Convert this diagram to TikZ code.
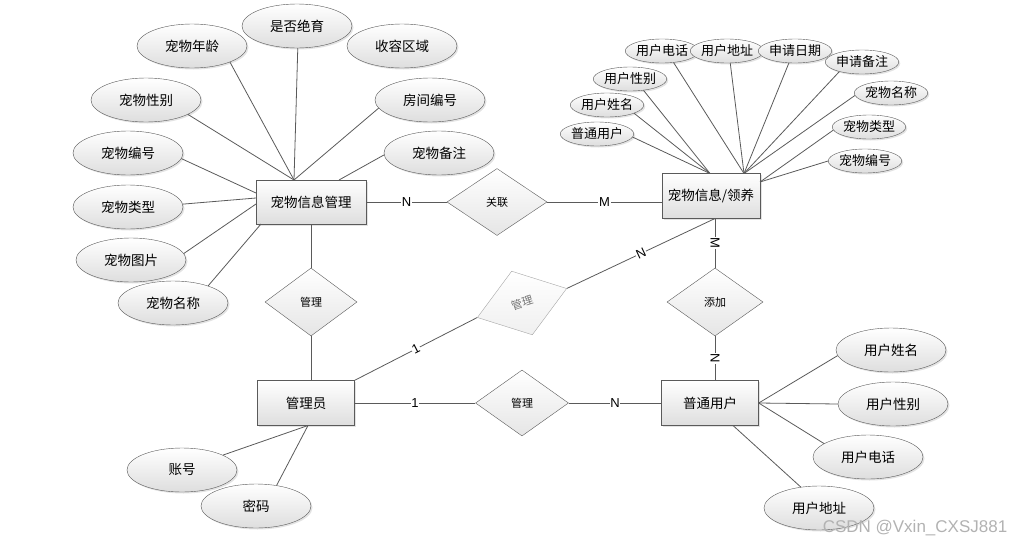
\documentclass[tikz,border=0pt]{standalone}
\usepackage{fontspec}
\setmainfont{Liberation Sans}
\newfontfamily\cjk{Noto Sans CJK SC}
\usetikzlibrary{shapes.geometric,shadows}
\definecolor{ln}{HTML}{5A5A5A}
\begin{document}
\begin{tikzpicture}[x=1pt,y=-1pt,
  shade/.style={top color=white, bottom color=black!13, drop shadow={shadow xshift=1.5pt, shadow yshift=-1.5pt, fill=black!22}},
  attr/.style={ellipse, draw=ln, shade, minimum width=110pt, minimum height=44pt, inner sep=0pt, font=\cjk\fontsize{13.5}{16}\selectfont},
  sattr/.style={attr, minimum width=66pt, minimum height=24pt, font=\cjk\fontsize{13}{15}\selectfont},
  ent/.style={rectangle, draw=ln, shade, minimum width=97pt, minimum height=45pt, inner sep=0pt, font=\cjk\fontsize{13.5}{16}\selectfont},
  rel/.style={diamond, draw=ln, top color=white, bottom color=black!10, inner sep=0pt, font=\cjk\fontsize{11}{13}\selectfont},
  con/.style={draw=ln, line width=0.8pt},
  card/.style={fill=white, inner sep=0.6pt, font=\fontsize{13}{15}\selectfont}
]
\useasboundingbox (0,0) rectangle (1016,546);

% ---------- entities ----------
\node[ent, minimum width=110pt, minimum height=44pt] (pm) at (311,202) {宠物信息管理};
\node[ent, minimum width=98pt] (pl) at (711,196) {宠物信息/领养};
\node[ent] (adm) at (306,403) {管理员};
\node[ent] (usr) at (710,403) {普通用户};

% ---------- relationships ----------
\node[rel, minimum width=92pt, minimum height=68pt] (r1) at (311,302) {管理};
\node[rel, minimum width=100pt, minimum height=67pt] (r2) at (497,202) {关联};
\node[rel, draw=black!35, top color=white, bottom color=black!6, text=black!55, rotate=18, minimum width=94pt, minimum height=67pt] (r3) at (522,303) {管理};
\node[rel, minimum width=96pt, minimum height=68pt] (r4) at (715,302) {添加};
\node[rel, minimum width=93pt, minimum height=66pt] (r5) at (522,403) {管理};

% ---------- attributes of 宠物信息管理 ----------
\node[attr] (a1) at (297,26) {是否绝育};
\node[attr] (a2) at (192,46) {宠物年龄};
\node[attr] (a3) at (402,46) {收容区域};
\node[attr] (a4) at (146,100) {宠物性别};
\node[attr] (a5) at (430,100) {房间编号};
\node[attr] (a6) at (128,153) {宠物编号};
\node[attr] (a7) at (439,153) {宠物备注};
\node[attr] (a8) at (128,207) {宠物类型};
\node[attr] (a9) at (131,260) {宠物图片};
\node[attr] (a10) at (173,303) {宠物名称};

\coordinate (pmt) at (294,180);
\coordinate (pmt2) at (339,180);
\coordinate (pml1) at (256,193);
\coordinate (pml2) at (256,198);
\coordinate (pml3) at (256,204);
\coordinate (pmb) at (261,224);
\draw[con] (a1.-88) -- (pmt);
\draw[con] (a2.-23) -- (pmt);
\draw[con] (a4.-19) -- (pmt);
\draw[con] (a5.-171) -- (pmt);
\draw[con] (a7.-178) -- (pmt2);
\draw[con] (a6.-6) -- (pml1);
\draw[con] (a8.3) -- (pml2);
\draw[con] (a9.7) -- (pml3);
\draw[con] (a10.26) -- (pmb);

% ---------- attributes of 宠物信息/领养 ----------
\node[sattr] (b1) at (597,134) {普通用户};
\node[sattr] (b2) at (607,105) {用户姓名};
\node[sattr] (b3) at (630,79) {用户性别};
\node[sattr] (b4) at (662,51) {用户电话};
\node[sattr] (b5) at (727,51) {用户地址};
\node[sattr] (b6) at (795,51) {申请日期};
\node[sattr] (b7) at (862,62) {申请备注};
\node[sattr] (b8) at (891,93) {宠物名称};
\node[sattr] (b9) at (869,127) {宠物类型};
\node[sattr] (b10) at (865,161) {宠物编号};

\coordinate (plt1) at (710,173.5);
\coordinate (plt2) at (744,173.5);
\coordinate (plr) at (760,182);
\draw[con] (b1.-5) -- (plt1);
\draw[con] (b2.-17) -- (plt1);
\draw[con] (b3.-40) -- (plt1);
\draw[con] (b4.-45) -- (plt2);
\draw[con] (b5.-75) -- (plt2);
\draw[con] (b6.-117) -- (plt2);
\draw[con] (b7.-157) -- (plt2);
\draw[con] (b8.-176) -- (plt2);
\draw[con] (b9.-175) -- (plr);
\draw[con] (b10.180) -- (plr);

% ---------- attributes of 管理员 ----------
\node[attr] (c1) at (182,470) {账号};
\node[attr] (c2) at (256,506) {密码};
\coordinate (admb) at (308,425.5);
\draw[con] (c1.20) -- (admb);
\draw[con] (c2.45) -- (admb);

% ---------- attributes of 普通用户 ----------
\node[attr] (d1) at (891,350) {用户姓名};
\node[attr] (d2) at (893,404) {用户性别};
\node[attr] (d3) at (868,457) {用户电话};
\node[attr] (d4) at (819,508) {用户地址};
\coordinate (usrb) at (733,425.5);
\draw[con] (d1.186) -- (usr.east);
\draw[con] (d2.180) -- (usr.east);
\draw[con] (d3.163) -- (usr.east);
\draw[con] (d4.131) -- (usrb);

% ---------- relationship connectors ----------
\draw[con] (pm.south) -- (r1.north);
\draw[con] (r1.south) -- (r1.south |- adm.north);
\draw[con] (pm.east) -- node[card] (n1) {N} (r2.west);
\draw[con] (r2.east) -- node[card] (n2) {M} (r2.east -| pl.west);
\coordinate (plb) at (715,218.5);
\draw[con] (plb) -- node[card, rotate=-90] (n3) {M} (r4.north);
\draw[con] (r4.south) -- node[card, rotate=-90] (n4) {N} (r4.south |- usr.north);
\draw[con] (adm.east) -- node[card] (n5) {1} (r5.west);
\draw[con] (r5.east) -- node[card] (n6) {N} (usr.west);
\draw[con] (adm.north east) -- node[card, rotate=27] (n7) {1} (r3.west);
\draw[con] (r3.east) -- node[card, rotate=25] (n8) {N} (plb);

% ---------- watermark ----------
\node[text=black!30, font=\fontsize{17}{20}\selectfont, inner sep=0pt] (wm) at (915,528) {CSDN @Vxin\_CXSJ881};
\end{tikzpicture}
\end{document}
